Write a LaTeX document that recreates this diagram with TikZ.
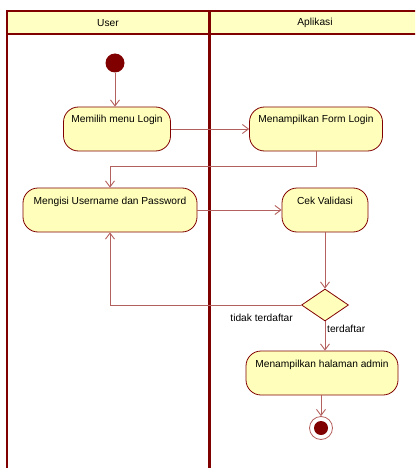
\documentclass[tikz,border=0pt]{standalone}
\usepackage{fontspec}
\setmainfont{Liberation Sans}
\usepackage{tikz}
\usetikzlibrary{arrows.meta,shapes.geometric,positioning}
\definecolor{lanered}{HTML}{800000}
\definecolor{flowred}{HTML}{B4605E}
\definecolor{actyellow}{HTML}{FFFFBB}
\definecolor{headyellow}{HTML}{FFFFC4}
\tikzset{
  act/.style={draw=lanered, fill=actyellow, rounded corners=15pt, line width=0.8pt, text height=12pt, text depth=24pt, inner ysep=4pt, inner xsep=4pt, font=\fontsize{10.2}{12}\selectfont},
  decision/.style={diamond, draw=lanered, fill=actyellow, line width=0.8pt, minimum width=47pt, minimum height=32pt, inner sep=0pt},
  flow/.style={draw=flowred, line width=0.9pt, -{Straight Barb[length=6pt,width=9pt]}},
  lbl/.style={font=\fontsize{10.2}{12}\selectfont, inner sep=0pt},
  lane/.style={draw=lanered, line width=2pt},
}
\begin{document}
\begin{tikzpicture}[x=1pt,y=-1pt]
    \useasboundingbox (0,0) rectangle (415,468);
    \clip (0,0) rectangle (415,468);
    % swimlanes
    \fill[headyellow] (7,11) rectangle (425,34);
    \draw[lane] (7,468) -- (7,11) -- (425,11);
    \draw[lane, line width=1.5pt] (7,34) -- (425,34);
    \draw[lane, line width=3pt] (209,11) -- (209,468);
    \node (U) [lbl] at (108,23) {User};
    \node (P) [lbl] at (315,23) {Aplikasi};
    % activities
    \node (S) [circle, fill=lanered, minimum size=19pt, inner sep=0pt] at (115,63) {};
    \node (A) [act, minimum width=107pt] at (117,129) {Memilih menu Login};
    \node (B) [act, minimum width=133pt] at (316,129) {Menampilkan Form Login};
    \node (C) [act, minimum width=174pt] at (110,210) {Mengisi Username dan Password};
    \node (D) [act, minimum width=86pt] at (325,210) {Cek Validasi};
    \node (E) [decision] at (325,305) {};
    \node (F) [act, minimum width=152pt] at (322,373) {Menampilkan halaman admin};
    \node (G) [circle, draw=flowred, line width=0.8pt, minimum size=23pt, inner sep=0pt] at (321,428) {};
    \node (G1) [circle, fill=lanered, minimum size=14pt, inner sep=0pt] at (G) {};
    \node (L1) [lbl, anchor=east] at (293,318) {tidak terdaftar};
    \node (L2) [lbl, anchor=west] at (327,329) {terdaftar};
    % flows
    \path (S.south) edge [flow] (S.south |- A.north);
    \path (A) edge [flow] (B);
    \draw [flow] (B.south) -- ++(0,15) -| (C.north);
    \path (C) edge [flow] (D);
    \path (D) edge [flow] (E);
    \draw [flow] (E.west) -| (C.south);
    \path (E.south) edge [flow] (E.south |- F.north);
    \path (F.south -| G) edge [flow] (G.north);
\end{tikzpicture}
\end{document}
